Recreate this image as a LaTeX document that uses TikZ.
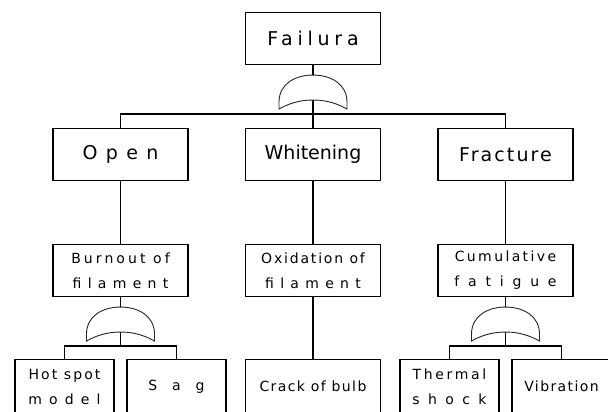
\documentclass[tikz,border=0pt]{standalone}
\usepackage{fontspec}
\setmainfont{DejaVu Sans}
\newcommand\tracked[2]{{\addfontfeature{LetterSpace=#1}#2}}

\begin{document}
\begin{tikzpicture}[x=1pt,y=1pt,level distance=116pt,
    level 1/.style={sibling distance=192.5pt},
    level 3/.style={sibling distance=112pt},
    box/.style={draw,line width=1.1pt,align=center,inner sep=0pt,
        minimum width=135pt,minimum height=52pt},
    leaf/.style={box,minimum width=99pt,minimum height=54pt},
    big/.style={font=\fontsize{19}{22}\selectfont},
    small/.style={font=\fontsize{14}{25}\selectfont},
    edge from parent/.style={draw,line width=1.1pt},
    edge from parent path={(\tikzparentnode.south) -- ++(0,-49) -| (\tikzchildnode.north)},
    gate/.style={draw=black!85,fill=white,line width=0.9pt},
    orgate/.pic={
        \draw[gate] (-34,-34) -- (-34,-27) .. controls (-34,-9) and (-18,0) .. (0,0)
            .. controls (18,0) and (34,-9) .. (34,-27) -- (34,-34)
            .. controls (20,-26) and (8,-25) .. (0,-25)
            .. controls (-8,-25) and (-20,-26) .. (-34,-34) -- cycle;
    }]

    \useasboundingbox (0,0) rectangle (608,412);

    \node[box,big] (failure) at (313,373.5) {\tracked{25}{Failura}}
        child {
            node[box,big] (open) {\tracked{44}{Open}}
            child {
                node[box,small] (burnout) {\tracked{22}{Burnout of}\\\tracked{45}{filament}}
                child { node[leaf,small] (hotspot) {\tracked{15}{Hot spot}\\\tracked{51}{model}} }
                child { node[leaf,small] (sag) {\tracked{106}{Sag}} }
            }
        }
        child {
            node[box,big] (whitening) {Whitening}
            child {
                node[box,small] (oxidation) {\tracked{13}{Oxidation of}\\\tracked{45}{filament}}
                child { node[box,small,minimum height=54pt] (crack) {\tracked{10}{Crack of bulb}} }
            }
        }
        child {
            node[box,big] (fracture) {\tracked{11}{Fracture}}
            child {
                node[box,small] (fatigue) {\tracked{17}{Cumulative}\\\tracked{63}{fatigue}}
                child { node[leaf,small] (thermal) {\tracked{19}{Thermal}\\\tracked{60}{shock}} }
                child { node[leaf,small] (vibration) {\tracked{10}{Vibration}} }
            }
        };

    % OR gates on the branching events
    \pic at ([yshift=-10pt]failure.south) {orgate};
    \pic at ([yshift=-10pt]burnout.south) {orgate};
    \pic at ([yshift=-10pt]fatigue.south) {orgate};
\end{tikzpicture}
\end{document}
